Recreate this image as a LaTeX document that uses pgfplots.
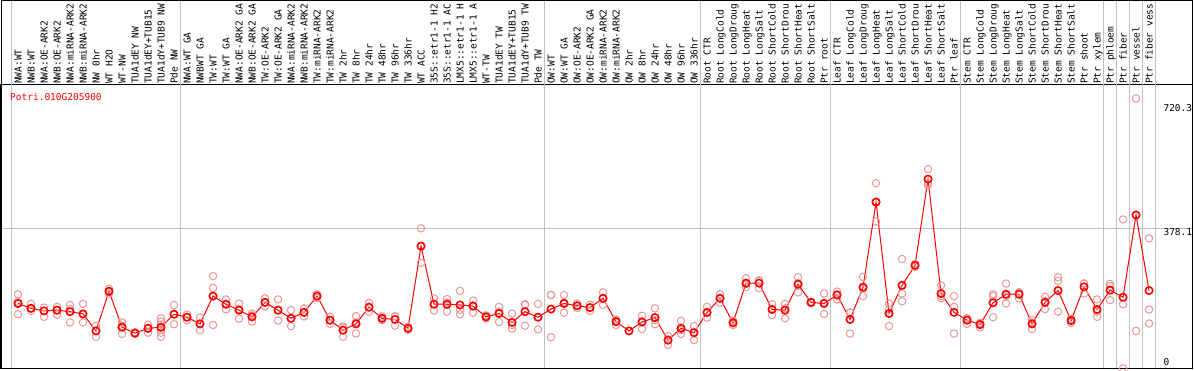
\documentclass[border=0pt]{standalone}
\usepackage{pgfplots}
\pgfplotsset{compat=1.18}
\usepackage{pgfplotstable}
\usepackage{fontspec}
\newfontfamily\pix{DejaVu Sans Mono}
\definecolor{sep}{RGB}{192,192,192}
\definecolor{rep}{RGB}{236,150,150}
\pgfplotstableread{
x y
1 175
2 162
3 155
4 157
5 153
6 147
7 101
8 208
9 111
10 95
11 108
12 111
13 146
14 138
15 120
16 195
17 173
18 157
19 139
20 178
21 157
22 135
23 151
24 195
25 130
26 103
27 120
28 165
29 135
30 132
31 108
32 330
33 173
34 173
35 171
36 168
37 139
38 148
39 124
40 153
41 138
42 160
43 175
44 169
45 164
46 189
47 126
48 101
49 125
50 137
51 76
52 108
53 96
54 151
55 189
56 123
57 230
58 230
59 159
60 157
61 227
62 178
63 175
64 198
65 132
66 219
67 449
68 148
69 224
70 278
71 511
72 202
73 151
74 130
75 118
76 177
77 200
78 200
79 120
80 178
81 210
82 129
83 220
84 159
85 211
86 192
87 414
88 210
}\means
\pgfplotstableread{
x y
1 200
1 180
1 146
2 174
2 162
2 155
3 164
3 155
3 139
4 166
4 157
4 145
5 171
5 160
5 124
6 174
6 145
6 124
7 115
7 101
7 85
8 215
8 208
8 202
9 124
9 115
9 93
10 97
10 95
10 93
11 118
11 108
11 96
12 135
12 126
12 118
12 104
12 96
12 85
13 171
13 146
13 119
14 145
14 138
14 130
15 137
15 120
15 103
16 249
16 217
16 117
17 186
17 173
17 159
18 175
18 160
18 134
19 148
19 143
19 126
20 189
20 178
20 167
21 186
21 157
21 129
22 157
22 135
22 114
23 162
23 151
23 140
24 200
24 195
24 190
25 139
25 130
25 120
26 113
26 110
26 85
27 141
27 124
27 94
28 177
28 165
28 153
29 140
29 135
29 130
30 141
30 140
30 115
31 112
31 108
31 104
32 378
32 330
32 285
33 189
33 173
33 156
34 187
34 178
34 153
35 209
35 158
35 146
36 183
36 170
36 150
37 143
37 139
37 135
38 166
38 153
38 125
39 148
39 117
39 107
40 173
40 171
40 115
41 174
41 138
41 105
42 198
42 198
42 84
43 198
43 178
43 150
44 175
44 169
44 163
45 172
45 164
45 155
46 205
46 189
46 171
47 132
47 129
47 117
48 101
49 142
49 127
49 106
50 162
50 130
50 119
51 87
51 78
51 63
52 128
52 103
52 93
53 114
53 98
53 76
54 166
54 150
54 137
55 200
55 190
55 177
56 128
56 124
56 117
57 243
57 228
57 219
58 238
58 236
58 216
59 173
59 160
59 144
60 174
60 162
60 135
61 246
61 230
61 205
62 180
62 178
62 176
63 202
63 177
63 147
64 207
64 200
64 186
65 150
65 151
65 94
66 247
66 215
66 195
67 500
67 449
67 396
68 175
68 158
68 114
69 295
69 202
69 181
70 282
70 278
70 274
71 538
71 500
71 495
72 224
72 195
72 189
73 195
73 166
73 94
74 135
74 134
74 120
75 121
75 123
75 110
76 200
76 195
76 138
77 229
77 195
77 175
78 205
78 205
78 189
79 130
79 123
79 106
80 193
80 181
80 160
81 246
81 236
81 153
82 133
82 130
82 123
83 229
83 229
83 202
84 186
84 153
84 139
85 228
85 222
85 184
86 402
86 173
86 0
87 729
87 101
88 351
88 159
88 121
}\reps
\begin{document}
\begin{tikzpicture}
\useasboundingbox (0,0) rectangle (1194pt,370pt);
\clip (0,0) rectangle (1194pt,370pt);
\begin{axis}[
  at={(1pt,1.7pt)}, anchor=south west,
  width=1191.3pt, height=283.3pt, scale only axis,
  xmin=-0.3077, xmax=91.33, ymin=0, ymax=765.1,
  clip=false,
  axis line style={black, line width=1pt},
  xtick={1,...,88},
  xticklabels={NWA:WT,NWB:WT,NWA:OE-ARK2,NWB:OE-ARK2,NWA:miRNA-ARK2,NWB:miRNA-ARK2,NW 0hr,WT H2O,WT-NW,TUA1dEY NW,TUA1dEY+TUB15,TUA1dY+TUB9 NW,Pde NW,NWA:WT GA,NWBWT GA,TW:WT,TW:WT GA,NWA:OE-ARK2 GA,NWB:OE-ARK2 GA,TW:OE-ARK2,TW:OE-ARK2 GA,NWA:miRNA-ARK2,NWB:miRNA-ARK2,TW:miRNA-ARK2,TW:miRNA-ARK2,TW 2hr,TW 8hr,TW 24hr,TW 48hr,TW 96hr,TW 336hr,WT ACC,35S::etr1-1 H2,35S::etr1-1 AC,LMX5::etr1-1 H,LMX5::etr1-1 A,WT-TW,TUA1dEY TW,TUA1dEY+TUB15,TUA1dY+TUB9 TW,Pde TW,OW:WT,OW:WT GA,OW:OE-ARK2,OW:OE-ARK2 GA,OW:miRNA-ARK2,OW:miRNA-ARK2,OW 2hr,OW 8hr,OW 24hr,OW 48hr,OW 96hr,OW 336hr,Root CTR,Root LongCold,Root LongDroug,Root LongHeat,Root LongSalt,Root ShortCold,Root ShortDrou,Root ShortHeat,Root ShortSalt,Ptr root,Leaf CTR,Leaf LongCold,Leaf LongDroug,Leaf LongHeat,Leaf LongSalt,Leaf ShortCold,Leaf ShortDrou,Leaf ShortHeat,Leaf ShortSalt,Ptr leaf,Stem CTR,Stem LongCold,Stem LongDroug,Stem LongHeat,Stem LongSalt,Stem ShortCold,Stem ShortDrou,Stem ShortHeat,Stem ShortSalt,Ptr shoot,Ptr xylem,Ptr phloem,Ptr fiber,Ptr vessel,Ptr fiber vess},
  xticklabel pos=upper,
  major tick length=0pt,
  xticklabel style={rotate=90, anchor=west, inner sep=1pt, font=\fontsize{9.5pt}{10pt}\pix, text height=7pt, text depth=0pt},
  ytick={378.1}, yticklabels={},
  ymajorgrids, major grid style={sep, line width=1pt},
]
\pgfplotsinvokeforeach{0.5,13.5,41.5,53.5,63.5,73.5,84.5,85.5,86.5,87.5,88.5}{
  \draw[sep, line width=1pt] (axis cs:#1,0) -- (axis cs:#1,1000);
}
\addplot[only marks, mark=o, mark size=3.7pt, mark options={draw=rep, line width=1pt}] table[x=x,y=y] {\reps};
\addplot[red, line width=1pt, mark=o, mark size=3.7pt, mark options={draw=red, line width=1.6pt}] table[x=x,y=y] {\means};
\node[anchor=west, inner sep=0pt, text=red, font=\fontsize{9.5pt}{10pt}\pix] at (axis cs:0.385,732.7) {Potri.010G205900};
\node[anchor=west, inner sep=0pt, font=\fontsize{9.5pt}{10pt}\pix] at (axis cs:89.1,703.8) {720.3};
\node[anchor=west, inner sep=0pt, font=\fontsize{9.5pt}{10pt}\pix] at (axis cs:89.1,368.1) {378.1};
\node[anchor=west, inner sep=0pt, font=\fontsize{9.5pt}{10pt}\pix] at (axis cs:89.1,17.8) {0};
\end{axis}
\draw[black, line width=1pt] (1pt,1.7pt) -- (1pt,369.5pt) -- (1192.3pt,369.5pt) -- (1192.3pt,1.7pt);
\end{tikzpicture}
\end{document}
